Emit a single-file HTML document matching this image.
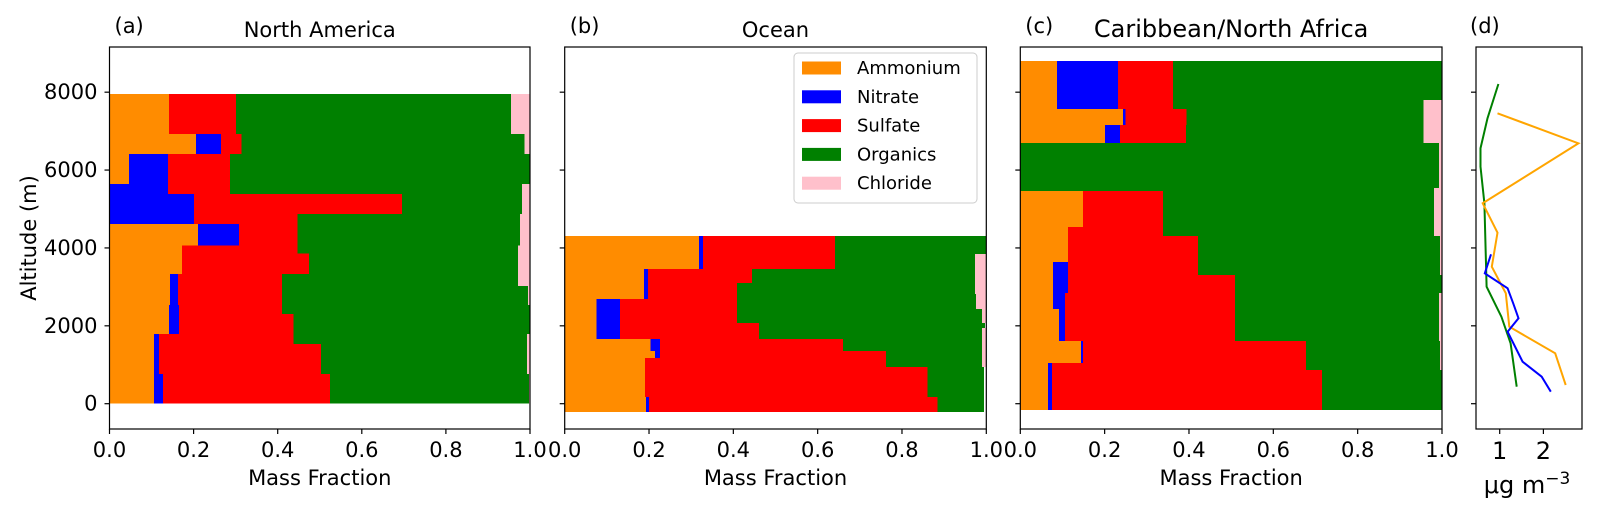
<!DOCTYPE html>
<html><head><meta charset="utf-8"><style>
html,body{margin:0;padding:0;background:#fff;}
svg{display:block;font-family:"DejaVu Sans","Liberation Sans",sans-serif;}
</style></head><body>
<svg id="fig" width="1597" height="510" viewBox="0 0 1597 510" xmlns="http://www.w3.org/2000/svg"></svg>
<script>
// ---- data: panel (a) North America ----
const aBot=[6926,6412,5642,5386,4872,4615,4058,3862,3331,3023,2535,2304,1790,1534,763,0];
const aTop=[7951,6926,6412,5642,5386,4872,4615,4058,3862,3331,3023,2535,2304,1790,1534,763];
const aAmm=[.142,.206,.046,0,0,0,.210,.172,.172,.144,.144,.142,.142,.106,.106,.106];
const aNit=[0,.059,.093,.139,.201,.201,.098,0,0,.019,.019,.023,.023,.012,.012,.021];
const aSul=[.159,.049,.148,.148,.495,.246,.139,.275,.303,.247,.247,.245,.272,.319,.385,.397];
const aOrg=[.654,.673,.713,.694,.285,.529,.529,.524,.497,.561,.585,.590,.563,.556,.490,.474];
const aChl=[.045,.013,0,.019,.019,.024,.024,.029,.028,.029,.005,0,0,.007,.007,.002];
// ---- panel (b) Ocean ----
const bBot=[3845,3459,3099,2818,2688,2430,2072,1943,1661,1353,1173,942,172,-213];
const bTop=[4306,3845,3459,3099,2818,2688,2430,2072,1943,1661,1353,1173,942,172];
const bAmm=[.318,.318,.188,.188,.188,.076,.076,.076,.076,.204,.214,.190,.190,.193];
const bNit=[.010,.010,.009,.009,.009,.055,.055,.055,.055,.022,.012,0,0,.007];
const bSul=[.313,.313,.247,.212,.212,.278,.278,.330,.330,.434,.536,.572,.670,.684];
const bOrg=[.359,.332,.529,.564,.567,.567,.581,.536,.529,.330,.228,.228,.135,.111];
const bChl=[0,.027,.027,.027,.024,.024,.010,0,.010,.010,.010,.010,0,0];
// ---- panel (c) Caribbean/North Africa ----
const cBot=[7798,7568,7157,6700,5534,5462,4538,4301,3639,3305,2843,2432,1610,1045,865,-162];
const cTop=[8800,7798,7568,7157,6700,5534,5462,4538,4301,3639,3305,2843,2432,1610,1045,865];
const cAmm=[.087,.087,.244,.201,0,0,.149,.113,.113,.078,.078,.078,.092,.144,.066,.066];
const cNit=[.145,.145,.005,.035,0,0,0,0,0,.035,.035,.028,.014,.005,.009,.009];
const cSul=[.130,.130,.145,.157,0,0,.189,.225,.308,.308,.396,.403,.403,.529,.603,.640];
const cOrg=[.638,.594,.562,.563,.993,.981,.643,.643,.574,.574,.491,.484,.484,.317,.317,.285];
const cChl=[0,.044,.044,.044,.007,.019,.019,.019,.005,.005,0,.007,.007,.005,.005,0];
// ---- panel (d) concentrations ----
const dGreenAlt=[8210,7329,6559,6087,5146,3005,2235,1551,437];
const dGreenVal=[.97,.72,.56,.56,.65,.70,1.04,1.25,1.39];
const dOrangeAlt=[7457,6687,5146,4391,3518,2835,1978,1294,480];
const dOrangeVal=[.95,2.8,.61,.95,.82,1.14,1.22,2.27,2.51];
const dBlueAlt=[3836,3348,2963,2578,2193,1849,1079,693,308];
const dBlueVal=[.80,.66,1.18,1.31,1.43,1.18,1.525,1.96,2.17];
const yTicks=[0,2000,4000,6000,8000];
const xTicks=[0,0.2,0.4,0.6,0.8,1.0];
const dTicks=[1,2];
const species=["Ammonium","Nitrate","Sulfate","Organics","Chloride"];
const colors=["#FF8C00","#0000FF","#FF0000","#008000","#FFC0CB"];

const NS="http://www.w3.org/2000/svg";
const svg=document.getElementById('fig');
function el(tag,attrs,parent){const e=document.createElementNS(NS,tag);for(const k in attrs)e.setAttribute(k,attrs[k]);(parent||svg).appendChild(e);return e;}
const TOP=47,BOT=429;
function yS(alt){return 403.7-alt*0.03894;}

const panels=[
 {id:"a",L:109.5,R:530,title:"North America",bot:aBot,top:aTop,vals:[aAmm,aNit,aSul,aOrg,aChl]},
 {id:"b",L:564.7,R:986.3,title:"Ocean",bot:bBot,top:bTop,vals:[bAmm,bNit,bSul,bOrg,bChl]},
 {id:"c",L:1020.3,R:1442,title:"Caribbean/North Africa",bot:cBot,top:cTop,vals:[cAmm,cNit,cSul,cOrg,cChl]}
];

panels.forEach(p=>{
  const g=el('g',{});
  
  
  const xS=f=>p.L+f*(p.R-p.L);
  for(let i=0;i<p.bot.length;i++){
    let cum=0;
    for(let s=0;s<5;s++){
      const v=p.vals[s][i];
      if(v>0){
        const r=el('rect',{x:xS(cum),y:yS(p.top[i]),width:xS(cum+v)-xS(cum),height:yS(p.bot[i])-yS(p.top[i]),fill:colors[s],'shape-rendering':'crispEdges'},g);
        
        
      }
      cum+=v;
    }
  }
  const fr=el('rect',{x:p.L,y:TOP,width:p.R-p.L,height:BOT-TOP,fill:'none',stroke:'#000','stroke-width':1.2},g);
  
  
  yTicks.forEach(t=>{
    el('line',{x1:p.L-5,x2:p.L,y1:yS(t),y2:yS(t),stroke:'#000','stroke-width':1.2},g);
    if(p.id==="a"){
      const tx=el('text',{x:p.L-12,y:yS(t)+7,'text-anchor':'end','font-size':21},g);
      tx.textContent=t;
      
      
    }
  });
  xTicks.forEach(t=>{
    el('line',{x1:xS(t),x2:xS(t),y1:BOT,y2:BOT+5,stroke:'#000','stroke-width':1.2},g);
    const tx=el('text',{x:xS(t),y:457,'text-anchor':'middle','font-size':21},g);
    tx.textContent=t.toFixed(1);
    
    
  });
  const xl=el('text',{x:(p.L+p.R)/2,y:485,'text-anchor':'middle','font-size':21},g);
  xl.textContent="Mass Fraction";
  
  
  const tt=el('text',{x:(p.L+p.R)/2,y:37,'text-anchor':'middle','font-size':p.id==="a"||p.id==="b"?21:24},g);
  tt.textContent=p.title;
  
  
  const pl=el('text',{x:p.L+5,y:33,'font-size':21},g);
  pl.textContent="("+p.id+")";
  
  
});

// y axis title
const yt=el('text',{x:0,y:0,'text-anchor':'middle','font-size':21,transform:'translate(36,238) rotate(-90)'});
yt.textContent="Altitude (m)";



// legend
const lg=el('g',{});


el('rect',{x:794,y:53,width:183,height:150,rx:4,fill:'#fff',stroke:'#ccc','stroke-width':1},lg);
species.forEach((s,i)=>{
  const cy=68+i*28.8;
  const pr=el('rect',{x:802,y:cy-6.5,width:39,height:13,fill:colors[i]},lg);
  
  
  const t=el('text',{x:857,y:cy+6,'font-size':18},lg);
  t.textContent=s;
  
  
});

// panel d
const D={L:1476,R:1582};
function dx(v){return 1456+v*43.7;}
const gd=el('g',{});


[[dGreenAlt,dGreenVal,'#008000','organics-line'],[dOrangeAlt,dOrangeVal,'#FFA500','ammonium-line'],[dBlueAlt,dBlueVal,'#0000FF','nitrate-line']].forEach(([al,va,c,n])=>{
  const pts=al.map((a,i)=>dx(va[i]).toFixed(1)+','+yS(a).toFixed(1)).join(' ');
  const pl=el('polyline',{points:pts,fill:'none',stroke:c,'stroke-width':2},gd);
  
  
});
const dfr=el('rect',{x:D.L,y:TOP,width:D.R-D.L,height:BOT-TOP,fill:'none',stroke:'#000','stroke-width':1.2},gd);


yTicks.forEach(t=>{el('line',{x1:D.L-5,x2:D.L,y1:yS(t),y2:yS(t),stroke:'#000','stroke-width':1.2},gd);});
dTicks.forEach(t=>{
  el('line',{x1:dx(t),x2:dx(t),y1:BOT,y2:BOT+5,stroke:'#000','stroke-width':1.2},gd);
  const tx=el('text',{x:dx(t),y:459,'text-anchor':'middle','font-size':24},gd);
  tx.textContent=t;
  
  
});
const dl=el('text',{x:1527,y:493,'text-anchor':'middle','font-size':24},gd);
dl.innerHTML='μg m<tspan dy="-9" font-size="17">−3</tspan>';


const dlab=el('text',{x:1470,y:33,'font-size':21},gd);
dlab.textContent="(d)";


</script>
</body></html>
